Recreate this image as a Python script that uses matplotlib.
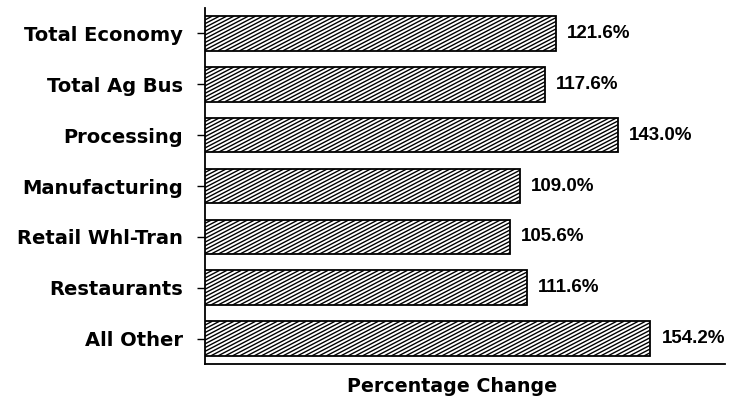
import numpy as np
import matplotlib
matplotlib.use("Agg")
import matplotlib.pyplot as plt
from matplotlib.collections import LineCollection

categories = ["Total Economy", "Total Ag Bus", "Processing", "Manufacturing",
              "Retail Whl-Tran", "Restaurants", "All Other"]
pct_change = [121.6, 117.6, 143.0, 109.0, 105.6, 111.6, 154.2]

fig = plt.figure(figsize=(7.34, 3.99), dpi=100)
ax = fig.add_axes((0.2793, 0.0877, 0.7084, 0.8922))

y = np.arange(len(categories))
bars = ax.barh(y, pct_change, height=0.68, color="white",
               edgecolor="black", linewidth=1.3, zorder=3)

ax.set_xlim(0, 180)
ax.set_ylim(len(categories) - 0.5, -0.5)

# shallow diagonal hatching, clipped to each bar
step = 2.5     # horizontal spacing (data units)
run = 23.0     # x-extent of one hatch line across the bar height
for b in bars:
    x0, yb, w, h = b.get_x(), b.get_y(), b.get_width(), b.get_height()
    segs = []
    for xs in np.arange(x0 - run, x0 + w + step, step):
        segs.append([(xs, yb + h), (xs + run, yb)])
    lc = LineCollection(segs, colors="black", linewidths=1.0, zorder=4)
    ax.add_collection(lc)
    lc.set_clip_path(b)

for yi, v in zip(y, pct_change):
    ax.text(v + 3.8, yi, f"{v:.1f}%", va="center", ha="left",
            fontsize=13.5, fontweight="bold", family="Liberation Sans")

ax.set_yticks(y)
ax.set_yticklabels(categories, fontsize=14, fontweight="bold")
ax.tick_params(axis="y", length=6, width=1, pad=10)
ax.set_xticks([])
ax.set_xlabel("Percentage Change", fontsize=13.7, fontweight="bold")
ax.xaxis.set_label_coords(0.475, -0.037, transform=ax.transAxes)
ax.xaxis.label.set_va("top")

for s in ("top", "right"):
    ax.spines[s].set_visible(False)
ax.spines["left"].set_linewidth(1.3)
ax.spines["bottom"].set_linewidth(1.3)

fig.savefig("out.png", dpi=100)
